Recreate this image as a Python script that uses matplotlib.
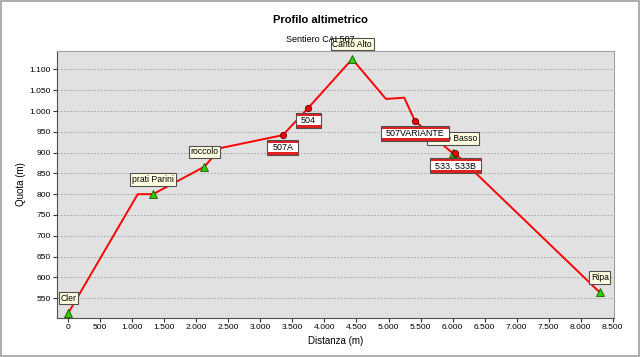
import matplotlib
matplotlib.use("Agg")
import matplotlib.pyplot as plt
from matplotlib.patches import Rectangle
from matplotlib.transforms import IdentityTransform
from matplotlib.ticker import FuncFormatter, MultipleLocator

plt.rcParams["font.family"] = ["Liberation Sans", "DejaVu Sans"]

# =========================
# DATA
# =========================
dist = [0, 1084, 1323, 2125, 2380, 3350, 3745, 4433, 4960, 5245, 5413, 6006, 6042, 8297]
quota = [514, 800, 800, 866, 911, 942, 1007, 1125, 1029, 1032, 976, 898, 898, 564]

wp_names = ["Cler", "prati Parini", "roccolo", "Canto Alto", "Canto Basso", "Ripa"]
wp_dist = [0, 1323, 2125, 4433, 6006, 8297]
wp_quota = [514, 800, 866, 1125, 898, 564]

route_names = ["507A", "504", "507VARIANTE", "533, 533B"]
route_dist = [3350, 3745, 5413, 6042]
route_quota = [942, 1007, 976, 898]

title = "Profilo altimetrico"
subtitle = "Sentiero CAI 507"


def thousands(v, pos):
    return f"{int(round(v)):,}".replace(",", ".")


fig = plt.figure(figsize=(6.4, 3.57), dpi=100)
fig.patch.set_facecolor("white")
ax = fig.add_axes([0.0886, 0.110, 0.8708, 0.748])
ax.set_facecolor("#e1e1e1")

# profile line
ax.plot(dist, quota, color="#ff0000", lw=1.4, zorder=3)

# markers
ax.plot(wp_dist, wp_quota, ls="none", marker="^", ms=6, mfc="#33cc00",
        mec="#1a5a00", mew=0.6, zorder=4)
ax.plot(route_dist, route_quota, ls="none", marker="o", ms=4.5, mfc="#ee0000",
        mec="#600000", mew=0.6, zorder=4)

# waypoint labels (yellow tooltips)
for n, x, y in zip(wp_names, wp_dist, wp_quota):
    ax.annotate(n, (x, y), xytext=(0, 7.5), textcoords="offset points",
                ha="center", va="bottom", fontsize=6.2, zorder=5,
                annotation_clip=False,
                bbox=dict(boxstyle="square,pad=0.2", fc="#ffffe1",
                          ec="#505050", lw=0.8))

# route labels (CAI red-white-red)
route_texts = []
for n, x, y in zip(route_names, route_dist, route_quota):
    t = ax.annotate(n, (x, y), xytext=(0, -5.8), textcoords="offset points",
                    ha="center", va="top", fontsize=6.4, zorder=8,
                    annotation_clip=False)
    route_texts.append(t)

# axes
ax.set_xlim(-180, 8520)
ax.set_ylim(503, 1145)
ax.xaxis.set_major_locator(MultipleLocator(500))
ax.set_yticks(list(range(550, 1101, 50)))
ax.xaxis.set_major_formatter(FuncFormatter(thousands))
ax.yaxis.set_major_formatter(FuncFormatter(thousands))
ax.tick_params(axis="both", labelsize=6.1, length=3, width=0.8,
               color="#303030", pad=1.5)
ax.yaxis.grid(True, color="#a0a0a0", lw=0.6, ls=(0, (2, 2)))
ax.set_axisbelow(True)
for s in ["top", "right"]:
    ax.spines[s].set_color("#a0a0a0")
for s in ["left", "bottom"]:
    ax.spines[s].set_color("#505050")
ax.set_xlabel("Distanza (m)", fontsize=7, labelpad=3.5)
ax.set_ylabel("Quota (m)", fontsize=7, labelpad=2)

fig.text(0.5, 1 - 20 / 357, title, ha="center", va="center",
         fontsize=8, fontweight="bold")
fig.text(0.5, 1 - 40 / 357, subtitle, ha="center", va="center", fontsize=6.5)

# outer frame
fig.add_artist(Rectangle((0.001, 0.002), 0.997, 0.995, transform=fig.transFigure,
                         fill=False, ec="#a0a0a0", lw=1.2))

# build red-white-red boxes round the route labels, in pixels
fig.canvas.draw()
r = fig.canvas.get_renderer()
for t in route_texts:
    bb = t.get_window_extent(r)
    band = 3
    x0, x1 = bb.x0 - 5, bb.x1 + 5
    y0, y1 = bb.y0 - band, bb.y1 + band
    ax.add_artist(Rectangle((x0, y0), x1 - x0, y1 - y0, transform=IdentityTransform(),
                            fc="white", ec="none", zorder=6, clip_on=False))
    for yb in (y0, y1 - band):
        ax.add_artist(Rectangle((x0, yb), x1 - x0, band, transform=IdentityTransform(),
                                fc="#e02020", ec="none", zorder=6.5, clip_on=False))
    ax.add_artist(Rectangle((x0, y0), x1 - x0, y1 - y0, transform=IdentityTransform(),
                            fill=False, ec="#505050", lw=0.8, zorder=6.6, clip_on=False))

fig.savefig("out.png", dpi=100)
